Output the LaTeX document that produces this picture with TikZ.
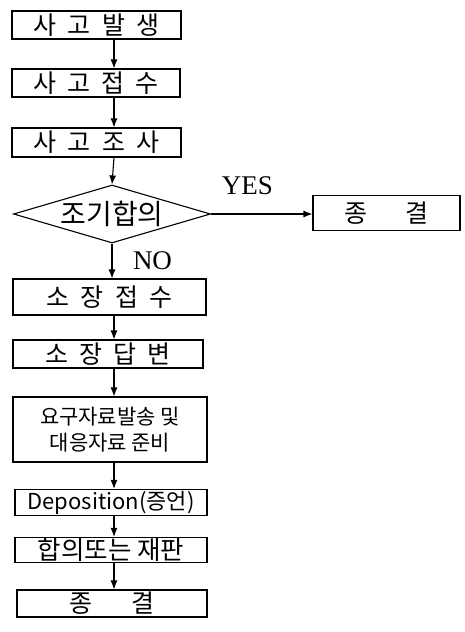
\documentclass[tikz,border=0pt]{standalone}
\usepackage{fontspec}
\setmainfont{Noto Sans CJK KR}
\newfontfamily\latinserif{Liberation Serif}
\usetikzlibrary{arrows, arrows.meta, shapes, positioning}
\newcommand\gp{\hspace{0.45em}}
\newcommand\wgp{\hspace{1.55em}}
\tikzset{line/.style={draw, line width=1.1pt, -{Latex[length=9pt,width=7pt]}}}

\begin{document}
\begin{tikzpicture}[x=1pt,y=-1pt,
  box/.style={draw,line width=1.1pt,inner sep=0pt,align=center,font=\fontsize{25}{28}\selectfont},
  choice/.style={draw,diamond,aspect=3.4,line width=1.1pt,inner sep=0pt,font=\fontsize{28}{30}\selectfont},
  tag/.style={font=\latinserif\fontsize{27}{29}\selectfont}]
 \useasboundingbox (0,0) rectangle (465,632);
 \coordinate (spine) at (114,0);

 \node[box, minimum width=169pt, minimum height=28pt] (acc) at (96.5,25) {사\gp 고\gp 발\gp 생};
 \node[box, minimum width=168pt, minimum height=28pt] (rep) at (96,83) {사\gp 고\gp 접\gp 수};
 \node[box, minimum width=169pt, minimum height=29pt] (inv) at (96.5,142.5) {사\gp 고\gp 조\gp 사};
 \node[choice, minimum width=197pt, minimum height=58pt] (early) at (112,214) {조기합의};
 \node[box, minimum width=147pt, minimum height=35pt] (end1) at (386.5,213) {종\wgp 결};
 \node[box, minimum width=193pt, minimum height=36pt] (suit) at (109.5,297) {소\gp 장\gp 접\gp 수};
 \node[box, minimum width=190pt, minimum height=28pt] (ans) at (108,354) {소\gp 장\gp 답\gp 변};
 \node[box, minimum width=194pt, minimum height=65pt, font=\fontsize{21}{26}\selectfont] (docs) at (110,429.5) {요구자료발송 및\\대응자료 준비};
 \node[box, minimum width=192pt, minimum height=26pt, font=\fontsize{22}{26}\selectfont] (dep) at (111,502.5) {Deposition(증언)};
 \node[box, minimum width=192pt, minimum height=25pt, font=\fontsize{25.5}{28}\selectfont] (trial) at (111,550) {합의또는 재판};
 \node[box, minimum width=190pt, minimum height=27pt] (end2) at (112,603.5) {종\wgp 결};

 \node[tag] (yes) at (247.5,186) {YES};
 \node[tag] (no) at (152.5,261) {NO};

 \path[line] (acc.south -| spine) -- (rep.north -| spine);
 \path[line] (rep.south -| spine) -- (inv.north -| spine);
 \path[line] (inv.south -| spine) -- (early.north);
 \path[line] (early.east) -- (early.east -| end1.west);
 \path[line] (early.south) -- (suit.north -| early.south);
 \path[line] (suit.south -| spine) -- (ans.north -| spine);
 \path[line] (ans.south -| spine) -- (docs.north -| spine);
 \path[line] (docs.south -| spine) -- (dep.north -| spine);
 \path[line] (dep.south -| spine) -- (trial.north -| spine);
 \path[line] (trial.south -| spine) -- (end2.north -| spine);
\end{tikzpicture}
\end{document}
